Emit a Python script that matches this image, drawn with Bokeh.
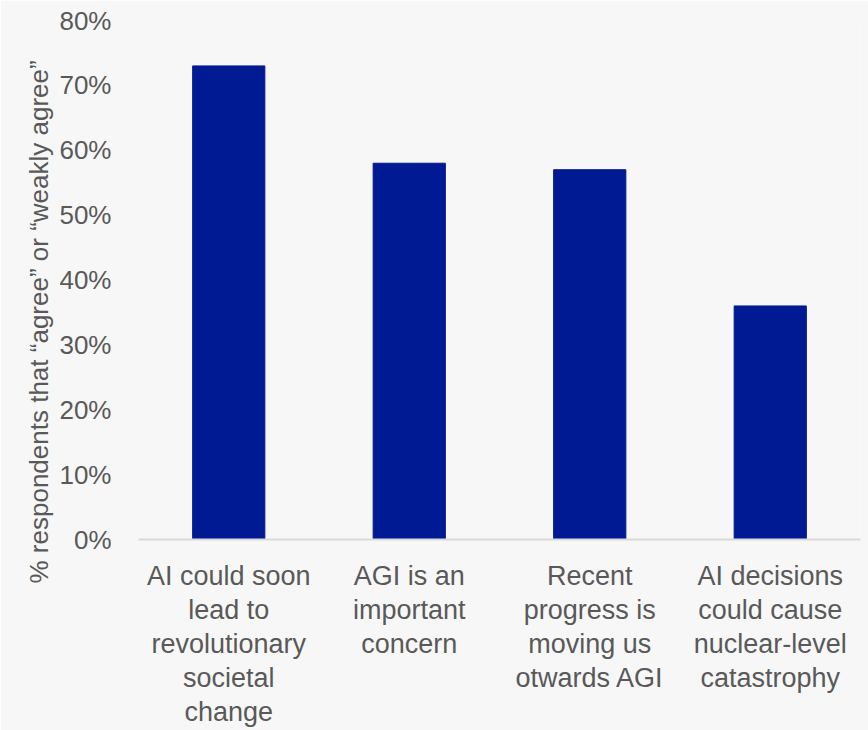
import math
from bokeh.plotting import figure
from bokeh.models import FactorRange, Range1d, FixedTicker, Title, ColumnDataSource
from bokeh.embed import file_html
from bokeh.resources import INLINE

categories = [
    "AI could soon\nlead to\nrevolutionary\nsocietal\nchange",
    "AGI is an\nimportant\nconcern",
    "Recent\nprogress is\nmoving us\notwards AGI",
    "AI decisions\ncould cause\nnuclear-level\ncatastrophy",
]
values = [73, 58, 57, 36]
y_ticks = [0, 10, 20, 30, 40, 50, 60, 70, 80]
y_tick_labels = ["0%", "10%", "20%", "30%", "40%", "50%", "60%", "70%", "80%"]
y_title = "% respondents that \u201cagree\u201d or \u201cweakly agree\u201d"

FONT = "Liberation Sans"
TEXT_COLOR = "#595959"
BG = "#f7f7f7"
BAR = "#001A94"

src = ColumnDataSource(data=dict(cat=categories, val=values))

p = figure(
    x_range=FactorRange(factors=categories, range_padding=0),
    y_range=Range1d(0, 80),
    width=868, height=730,
    output_backend="svg", toolbar_location=None,
    min_border_left=138, min_border_right=8, min_border_top=20, min_border_bottom=189,
    background_fill_color=BG, border_fill_color=BG, outline_line_color=None,
)
p.vbar(x="cat", top="val", width=0.4, source=src, fill_color=BAR, line_color=BAR)

p.xgrid.visible = False
p.ygrid.visible = False

ya = p.yaxis[0]
ya.ticker = FixedTicker(ticks=y_ticks)
ya.major_label_overrides = {t: l for t, l in zip(y_ticks, y_tick_labels)}
ya.axis_line_color = None
ya.major_tick_line_color = None
ya.minor_tick_line_color = None
ya.major_label_standoff = 21
ya.major_label_text_font = FONT
ya.major_label_text_font_size = "26px"
ya.major_label_text_color = TEXT_COLOR

xa = p.xaxis[0]
xa.axis_line_color = "#d9d9d9"
xa.axis_line_width = 2
xa.major_tick_line_color = None
xa.minor_tick_line_color = None
xa.major_label_standoff = 15
xa.major_label_text_font = FONT
xa.major_label_text_font_size = "27px"
xa.major_label_text_color = TEXT_COLOR
xa.major_label_text_line_height = 1.14

title = Title(
    text=y_title, align="left", offset=-44,
    text_font=FONT, text_font_size="26px", text_font_style="normal",
    text_color=TEXT_COLOR, standoff=6,
)
p.add_layout(title, "left")

open("out.html", "w").write(file_html(p, INLINE))
